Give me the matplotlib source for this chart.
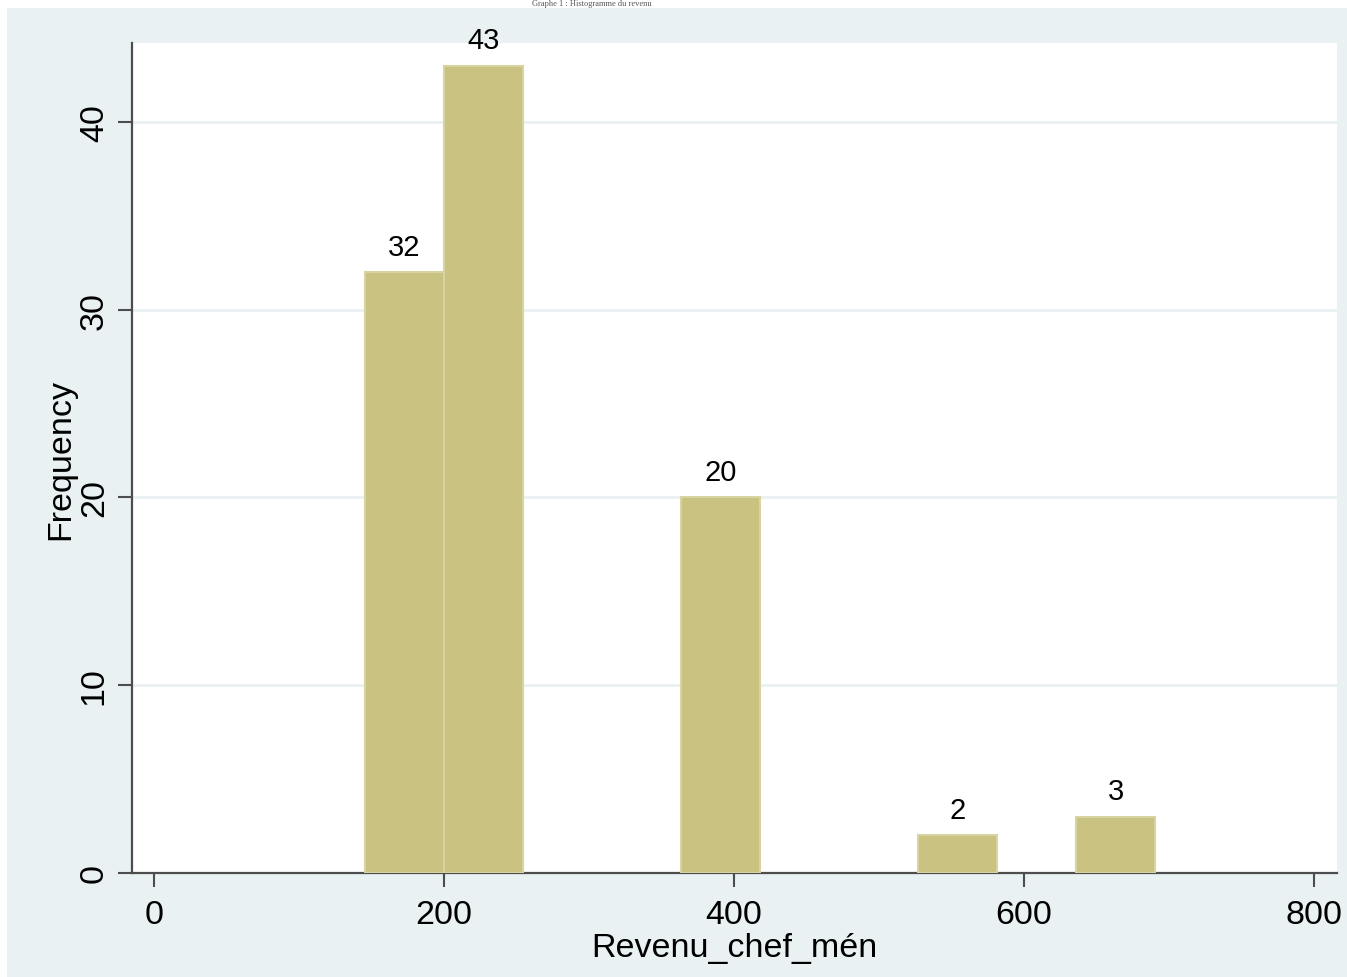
import matplotlib.pyplot as plt
from matplotlib.patches import Rectangle
import numpy as np

plt.rcParams['font.family'] = ['Liberation Sans', 'DejaVu Sans']

# histogram bins (Stata style, 10 bins) and frequencies
bin_start = 145.5
bin_width = 54.5
counts = [32, 43, 0, 0, 20, 0, 0, 2, 0, 3]
xticks = [0, 200, 400, 600, 800]
yticks = [0, 10, 20, 30, 40]
xlabel = "Revenu_chef_mén"
ylabel = "Frequency"
title = "Graphe 1 : Histogramme du revenu"

bg = '#e9f1f3'
bar_col = '#cac281'
edge_col = '#d8d3a2'
axis_col = '#4d4d4d'

W, H = 1347, 978
fig = plt.figure(figsize=(W / 100, H / 100), dpi=100)
fig.patch.set_facecolor('white')
fig.add_artist(Rectangle((7 / W, 0), 1, (H - 9) / H, transform=fig.transFigure,
                         facecolor=bg, edgecolor='none', zorder=-10))

ax = fig.add_axes([132 / W, (H - 874) / H, (1337 - 132) / W, (874 - 44) / H])
ax.set_facecolor('white')

lefts = bin_start + bin_width * np.arange(len(counts))
counts = np.array(counts)
keep = counts > 0  # empty bins draw nothing
ax.bar(lefts[keep], counts[keep], width=bin_width, align='edge', color=bar_col,
       edgecolor=edge_col, linewidth=1.5, zorder=3)
for l, c in zip(lefts[keep], counts[keep]):
    ax.text(l + bin_width / 2, c + 0.6, str(c), ha='center', va='bottom',
            fontsize=21, zorder=4)

ax.set_xlim(-15.2, 816)
ax.set_ylim(0, 44.2)
ax.set_xticks(xticks)
ax.set_yticks(yticks)
ax.set_yticklabels([str(t) for t in yticks], rotation=90, va='center')
ax.yaxis.grid(True, color=bg, linewidth=2, zorder=1)
ax.set_axisbelow(True)

for s in ['top', 'right']:
    ax.spines[s].set_visible(False)
for s in ['left', 'bottom']:
    ax.spines[s].set_color(axis_col)
    ax.spines[s].set_linewidth(1.6)
ax.tick_params(axis='both', direction='out', length=10, width=1.5, color=axis_col,
               labelsize=24.5)
ax.tick_params(axis='x', pad=9)
ax.tick_params(axis='y', pad=6)

ax.set_xlabel(xlabel, fontsize=24.5, labelpad=1)
ax.set_ylabel(ylabel, fontsize=24.5, labelpad=2)

# title sits in the thin white strip above the panel (cropped in the source)
fig.text(592 / W, 1 - 0.5 / H, title, ha='center', va='top', fontsize=6,
         family=['Liberation Serif', 'DejaVu Serif'], color='#555555')

fig.savefig('out.png', dpi=100, facecolor=fig.get_facecolor())
